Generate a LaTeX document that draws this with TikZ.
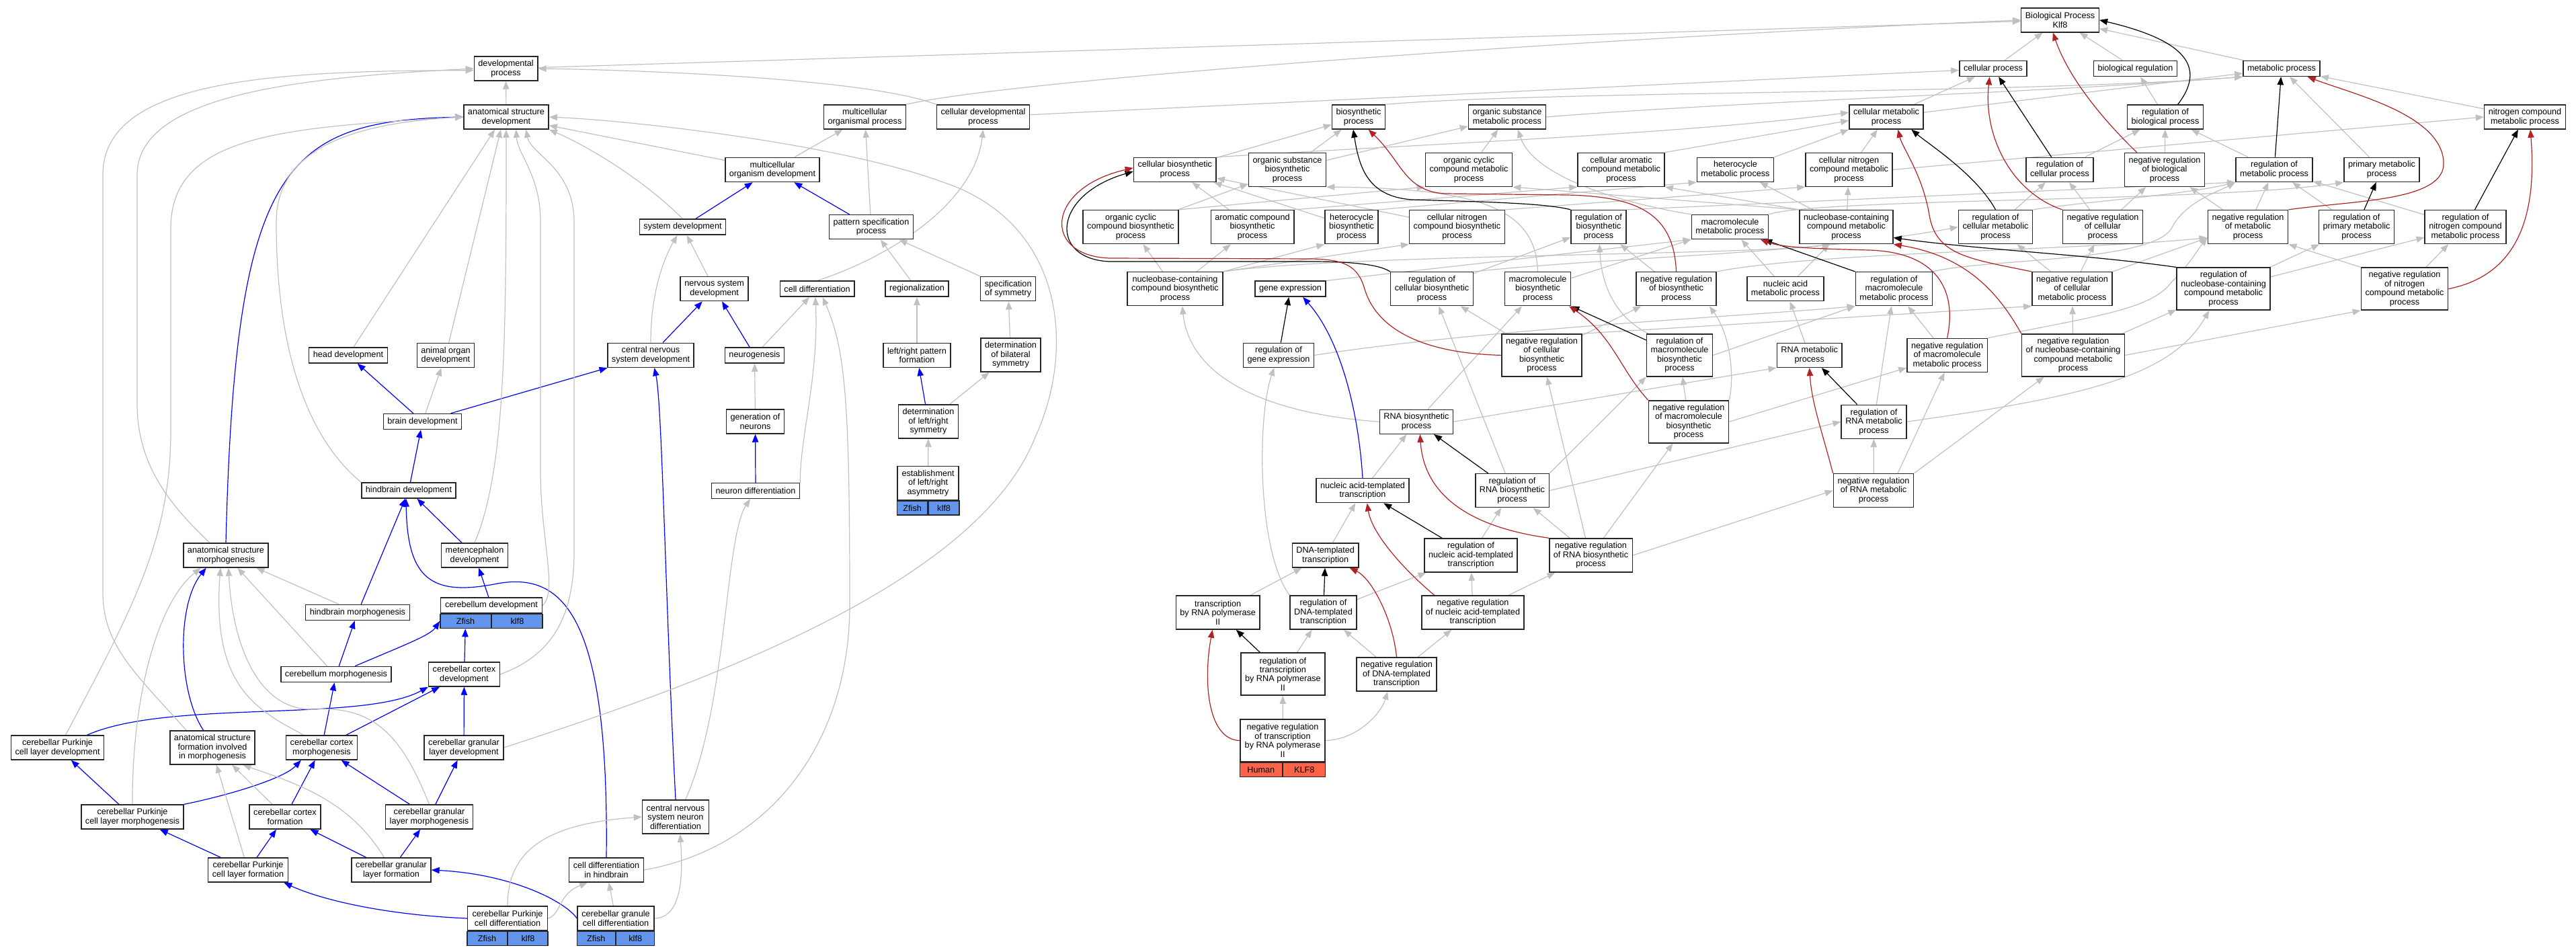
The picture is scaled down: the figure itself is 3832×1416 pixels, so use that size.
\documentclass[tikz,border=0pt]{standalone}
\usepackage{fontspec}
\setmainfont{Liberation Sans}
\usepackage{tikz}
\usetikzlibrary{arrows.meta,backgrounds}
\definecolor{isagray}{RGB}{192,192,192}
\definecolor{negred}{RGB}{178,34,34}
\definecolor{zfblue}{RGB}{100,149,237}
\definecolor{hsred}{RGB}{255,99,71}
\newcommand{\gofont}{\fontsize{9.5}{10.1}\selectfont}

\begin{document}
\begin{tikzpicture}[x=0.75pt,y=-0.75pt,
  term/.style={draw=black!85,line width=1.1pt,fill=white,align=center,font=\gofont,inner xsep=4.6pt,inner ysep=1pt},
  go1/.style={term,minimum height=17.25pt},
  go2/.style={term,minimum height=27pt},
  go3/.style={term,minimum height=37.5pt},
  go4/.style={term,minimum height=47.25pt},
  zf/.style={draw=black!85,line width=1.1pt,fill=zfblue,font=\gofont,minimum height=15.75pt,inner sep=0pt},
  hs/.style={zf,fill=hsred},
  isa/.style={draw=isagray,line width=0.9pt,-{Triangle[length=9pt,width=7pt]}},
  partof/.style={isa,draw=blue},
  regl/.style={isa,draw=black},
  negreg/.style={isa,draw=negred}]
\useasboundingbox (0,0) rectangle (3832,1416);

% developmental terms (left)
\node[go2] (dp) at (752.6,102) {developmental\\process};
\node[go2] (asd) at (753,174) {anatomical structure\\development};
\node[go2] (mop) at (1286.5,174) {multicellular\\organismal process};
\node[go2] (cdp) at (1462.5,174) {cellular developmental\\process};
\node[go2] (mod) at (1149,252.5) {multicellular\\organism development};
\node[go1] (sd) at (1015.5,337.7) {system development};
\node[go2] (psp) at (1296,337.7) {pattern specification\\process};
\node[go2] (nsd) at (1062.7,429.7) {nervous system\\development};
\node[go1] (cd) at (1215.6,429.7) {cell differentiation};
\node[go1] (reg) at (1364,429.7) {regionalization};
\node[go2] (sos) at (1499.7,429.7) {specification\\of symmetry};
\node[go1] (hd) at (518,528.5) {head development};
\node[go2] (aod) at (663,528.5) {animal organ\\development};
\node[go2] (cnsd) at (968,528.4) {central nervous\\system development};
\node[go1] (ng) at (1122.5,528.5) {neurogenesis};
\node[go2] (lrpf) at (1364,528.4) {left/right pattern\\formation};
\node[go3] (dbs) at (1503.5,528) {determination\\of bilateral\\symmetry};
\node[go1] (bd) at (628.5,627) {brain development};
\node[go2] (gon) at (1123.5,627) {generation of\\neurons};
\node[go3] (dlrs) at (1381,627) {determination\\of left/right\\symmetry};
\node[go1] (hbd) at (608,729.5) {hindbrain development};
\node[go1] (nd) at (1124,730) {neuron differentiation};
\node[go3,minimum width=68.25pt] (elra) at (1380.6,718.5) {establishment\\of left/right\\asymmetry};
\node[zf,minimum width=34.1pt,anchor=north east] (elraz) at (elra.south) {Zfish};
\node[zf,minimum width=34.1pt,anchor=north west] (elrak) at (elra.south) {klf8};
\node[go2] (asm) at (336,826) {anatomical structure\\morphogenesis};
\node[go2] (med) at (706,826) {metencephalon\\development};
\node[go1] (hbm) at (532,911) {hindbrain morphogenesis};
\node[go1,minimum width=113.25pt] (cbd) at (731,900.5) {cerebellum development};
\node[zf,minimum width=56.6pt,anchor=north east] (cbdz) at (cbd.south) {Zfish};
\node[zf,minimum width=56.6pt,anchor=north west] (cbdk) at (cbd.south) {klf8};
\node[go1] (cbm) at (500,1003) {cerebellum morphogenesis};
\node[go2] (ccd) at (690.5,1003) {cerebellar cortex\\development};
\node[go2] (cpcld) at (85.6,1112) {cerebellar Purkinje\\cell layer development};
\node[go3] (asfim) at (316,1112) {anatomical structure\\formation involved\\in morphogenesis};
\node[go2] (ccm) at (478.5,1112) {cerebellar cortex\\morphogenesis};
\node[go2] (cgld) at (690,1112) {cerebellar granular\\layer development};
\node[go2] (cpclm) at (197,1215) {cerebellar Purkinje\\cell layer morphogenesis};
\node[go2] (ccf) at (424,1215) {cerebellar cortex\\formation};
\node[go2] (cglm) at (638.5,1215) {cerebellar granular\\layer morphogenesis};
\node[go3] (cnsnd) at (1005,1215) {central nervous\\system neuron\\differentiation};
\node[go2] (cpclf) at (369,1294) {cerebellar Purkinje\\cell layer formation};
\node[go2] (cglf) at (582,1294) {cerebellar granular\\layer formation};
\node[go2] (cdh) at (902,1294) {cell differentiation\\in hindbrain};
\node[go2,minimum width=89.25pt] (cpcd) at (755,1366) {cerebellar Purkinje\\cell differentiation};
\node[zf,minimum width=44.6pt,anchor=north east] (cpcdz) at (cpcd.south) {Zfish};
\node[zf,minimum width=44.6pt,anchor=north west] (cpcdk) at (cpcd.south) {klf8};
\node[go2,minimum width=85.5pt] (cgcd) at (916,1366) {cerebellar granule\\cell differentiation};
\node[zf,minimum width=42.75pt,anchor=north east] (cgcdz) at (cgcd.south) {Zfish};
\node[zf,minimum width=42.75pt,anchor=north west] (cgcdk) at (cgcd.south) {klf8};

% metabolic terms (right)
\node[go2] (bp) at (3064.5,29.8) {Biological Process\\Klf8};
\node[go1] (cp) at (2965,102) {cellular process};
\node[go1] (br) at (3176.5,102) {biological regulation};
\node[go1] (mp) at (3394,102) {metabolic process};
\node[go2] (bsp) at (2021,174) {biosynthetic\\process};
\node[go2] (osmp) at (2242,174) {organic substance\\metabolic process};
\node[go2] (cmp) at (2806,174) {cellular metabolic\\process};
\node[go2] (rbp) at (3221,174) {regulation of\\biological process};
\node[go2] (ncmp) at (3756,174) {nitrogen compound\\metabolic process};
\node[go2] (cbp) at (1747.8,252.4) {cellular biosynthetic\\process};
\node[go3] (osbp) at (1915,252.4) {organic substance\\biosynthetic\\process};
\node[go3] (occmp) at (2185,252.4) {organic cyclic\\compound metabolic\\process};
\node[go3] (cacmp) at (2411.5,252.4) {cellular aromatic\\compound metabolic\\process};
\node[go2] (hmp) at (2581.5,252.4) {heterocycle\\metabolic process};
\node[go3] (cncmp) at (2750.5,252.4) {cellular nitrogen\\compound metabolic\\process};
\node[go2] (rcp) at (3064,252.4) {regulation of\\cellular process};
\node[go3] (nrbp) at (3220,252.4) {negative regulation\\of biological\\process};
\node[go2] (rmp) at (3383,252.4) {regulation of\\metabolic process};
\node[go2] (pmp) at (3543,252.4) {primary metabolic\\process};
\node[go3] (occbp) at (1682,337.6) {organic cyclic\\compound biosynthetic\\process};
\node[go3] (acbp) at (1863,337.6) {aromatic compound\\biosynthetic\\process};
\node[go3] (hbp) at (2010.6,337.6) {heterocycle\\biosynthetic\\process};
\node[go3] (cncbp) at (2167.5,337.6) {cellular nitrogen\\compound biosynthetic\\process};
\node[go3] (rbsp) at (2378,337.6) {regulation of\\biosynthetic\\process};
\node[go2] (mmp) at (2573.5,337.6) {macromolecule\\metabolic process};
\node[go3] (nccmp) at (2746.5,337.6) {nucleobase-containing\\compound metabolic\\process};
\node[go3] (rcmp) at (2968.5,337.6) {regulation of\\cellular metabolic\\process};
\node[go3] (nrcp) at (3128,337.6) {negative regulation\\of cellular\\process};
\node[go3] (nrmp) at (3344,337.6) {negative regulation\\of metabolic\\process};
\node[go3] (rpmp) at (3505.5,337.6) {regulation of\\primary metabolic\\process};
\node[go3] (rncmp) at (3667.5,337.6) {regulation of\\nitrogen compound\\metabolic process};
\node[go3] (nccbp) at (1748,429.7) {nucleobase-containing\\compound biosynthetic\\process};
\node[go1] (ge) at (1919.5,429.7) {gene expression};
\node[go3] (rcbp) at (2130,429.7) {regulation of\\cellular biosynthetic\\process};
\node[go3] (mbp) at (2287.5,429.7) {macromolecule\\biosynthetic\\process};
\node[go3] (nrbsp) at (2493.5,429.7) {negative regulation\\of biosynthetic\\process};
\node[go2] (namp) at (2656,429.7) {nucleic acid\\metabolic process};
\node[go3] (rmmp) at (2817.5,429.7) {regulation of\\macromolecule\\metabolic process};
\node[go3] (nrcmp) at (3082.5,429.7) {negative regulation\\of cellular\\metabolic process};
\node[go4] (rnccmp) at (3307.6,429.7) {regulation of\\nucleobase-containing\\compound metabolic\\process};
\node[go4] (nrncmp) at (3577,429.7) {negative regulation\\of nitrogen\\compound metabolic\\process};
\node[go2] (rge) at (1902,528.4) {regulation of\\gene expression};
\node[go4] (nrcbp) at (2293.5,528.4) {negative regulation\\of cellular\\biosynthetic\\process};
\node[go4] (rmbp) at (2498.5,528.4) {regulation of\\macromolecule\\biosynthetic\\process};
\node[go2] (rnamp) at (2691.7,528.4) {RNA metabolic\\process};
\node[go3] (nrmmp) at (2896.6,528.4) {negative regulation\\of macromolecule\\metabolic process};
\node[go4] (nrnccmp) at (3084,528.4) {negative regulation\\of nucleobase-containing\\compound metabolic\\process};
\node[go2] (rnabp) at (2107,627.3) {RNA biosynthetic\\process};
\node[go4] (nrmbp) at (2512,627.3) {negative regulation\\of macromolecule\\biosynthetic\\process};
\node[go3] (rrnamp) at (2787.5,627.3) {regulation of\\RNA metabolic\\process};
\node[go2] (natt) at (2027,729.7) {nucleic acid-templated\\transcription};
\node[go3] (rrbp) at (2249.5,729.7) {regulation of\\RNA biosynthetic\\process};
\node[go3] (nrrnamp) at (2787,729.7) {negative regulation\\of RNA metabolic\\process};
\node[go2] (dtt) at (1971.7,826) {DNA-templated\\transcription};
\node[go3] (rnatt) at (2188,826) {regulation of\\nucleic acid-templated\\transcription};
\node[go3] (nrrbp) at (2366.5,826) {negative regulation\\of RNA biosynthetic\\process};
\node[go3] (trp) at (1811.7,911) {transcription\\by RNA polymerase\\II};
\node[go3] (rdtt) at (1968.5,911) {regulation of\\DNA-templated\\transcription};
\node[go3] (nrnatt) at (2191,911) {negative regulation\\of nucleic acid-templated\\transcription};
\node[go4] (rtrp) at (1908.4,1002.6) {regulation of\\transcription\\by RNA polymerase\\II};
\node[go3] (nrdtt) at (2077.5,1003) {negative regulation\\of DNA-templated\\transcription};
\node[go4,minimum width=94.5pt] (nrtrp) at (1908,1101.5) {negative regulation\\of transcription\\by RNA polymerase\\II};
\node[hs,minimum width=47.25pt,anchor=north east] (nrtrph) at (nrtrp.south) {Human};
\node[hs,minimum width=47.25pt,anchor=north west] (nrtrpk) at (nrtrp.south) {KLF8};

\begin{scope}[on background layer]
% part_of edges (left)
\draw[partof] (sd) -- (mod);
\draw[partof] (psp) -- (mod);
\draw[partof] (cnsd) -- (nsd);
\draw[partof] (ng) -- (nsd);
\draw[partof] (bd) -- (hd);
\draw[partof] (bd) -- (cnsd);
\draw[partof] (hbd) -- (bd);
\draw[partof] (med) -- (hbd);
\draw[partof] (hbm) -- (hbd);
\draw[partof] (cbd) -- (med);
\draw[partof] (cbm) -- (hbm);
\draw[partof] ([xshift=21pt]cbm.north) .. controls (600,960) and (640,945) .. (cbdz.west);
\draw[partof] (ccd) -- (cbdz);
\draw[partof] (ccm) -- (cbm);
\draw[partof] (ccm) -- (ccd);
\draw[partof] ([xshift=33pt]cpcld.north) .. controls (250,1040) and (540,1075) .. (ccd.south west);
\draw[partof] (cgld) -- (ccd);
\draw[partof] (cpclm) -- (cpcld);
\draw[partof] (cpclm.north east) .. controls (330,1185) and (420,1160) .. ([xshift=-23pt]ccm.south);
\draw[partof] (ccf) -- (ccm);
\draw[partof] (cglm) -- (ccm);
\draw[partof] (cglm) -- (cgld);
\draw[partof] (cpclf) -- (cpclm);
\draw[partof] (cpclf) -- (ccf);
\draw[partof] (cglf) -- (ccf);
\draw[partof] (cglf) -- (cglm);
\draw[partof] (cpcd.west) .. controls (560,1360) and (470,1335) .. ([xshift=40pt]cpclf.south);
\draw[partof] (cgcd.west) .. controls (840,1340) and (760,1300) .. (cglf.east);
\draw[partof] ([xshift=-10pt]asfim.north) .. controls (265,1030) and (262,900) .. ([xshift=-22pt]asm.south);
\draw[partof] (asm.north) .. controls (350,250) and (420,180) .. (asd.west);
\draw[partof] (cdh.north) .. controls (906,920) and (840,850) .. (740,868) .. controls (640,888) and (606,860) .. ([xshift=-3pt]hbd.south);
\draw[partof] (cnsnd.north) .. controls (990,900) and (985,600) .. ([xshift=4pt]cnsd.south);
\draw[partof] (nd) -- (gon);
\draw[partof] (dlrs) -- (lrpf);
% is_a edges (left)
\draw[isa] (asd) -- (dp);
\draw[isa] (dp) -- (bp);
\draw[isa] (mop.north east) .. controls (1500,120) and (2300,60) .. (bp.west);
\draw[isa] (cdp.north west) .. controls (1300,120) and (1000,105) .. (dp.east);
\draw[isa] (cdp) -- (cp);
\draw[isa] (mod) -- (asd);
\draw[isa] (mod) -- (mop);
\draw[isa] (psp) -- (mop);
\draw[isa] (cd.north) .. controls (1330,380) and (1450,300) .. (cdp.south);
\draw[isa] (sd.north) .. controls (960,270) and (880,220) .. (asd.south east);
\draw[isa] (cnsd.north) .. controls (968,430) and (990,380) .. ([xshift=-6pt]sd.south);
\draw[isa] (nsd) -- (sd);
\draw[isa] (reg) -- (psp);
\draw[isa] (sos) -- (psp);
\draw[isa] (ng) -- (cd);
\draw[isa] (nd.north east) .. controls (1190,650) and (1218,560) .. ([xshift=-2pt]cd.south);
\draw[isa] (cdh.east) .. controls (1150,1260) and (1264,1100) .. (1264,900) .. controls (1264,600) and (1258,520) .. ([xshift=6pt]cd.south);
\draw[isa] (gon) -- (ng);
\draw[isa] (lrpf) -- (reg);
\draw[isa] (dbs) -- (sos);
\draw[isa] (dlrs) -- (dbs);
\draw[isa] (elra) -- (dlrs);
\draw[isa] (hd) -- ([xshift=-12.75pt]asd.south);
\draw[isa] (aod) -- ([xshift=-6pt]asd.south);
\draw[isa] (bd) -- (aod);
\draw[isa] (med.north) .. controls (752,700) and (753,500) .. (asd.south);
\draw[isa] (cbd.east) .. controls (830,880) and (804,800) .. (804,700) -- (804,330) .. controls (804,260) and (770,230) .. ([xshift=11pt]asd.south);
\draw[isa] (ccd.east) .. controls (820,975) and (854,920) .. (854,820) -- (854,330) .. controls (854,250) and (790,230) .. ([xshift=22pt]asd.south);
\draw[isa] (cgld.east) .. controls (1000,1030) and (1450,880) .. (1540,650) .. controls (1600,520) and (1585,330) .. (1400,270) .. controls (1250,215) and (950,180) .. (asd.east);
\draw[isa] (hbd.north west) .. controls (420,620) and (411,420) .. (411,330) .. controls (411,210) and (550,182) .. (asd.west);
\draw[isa] ([xshift=9pt]cpcld.north) .. controls (200,900) and (254,800) .. (254,640) -- (254,340) .. controls (254,200) and (420,190) .. (asd.west);
\draw[isa] ([xshift=-18pt]asm.north) .. controls (240,740) and (204,680) .. (204,600) -- (204,260) .. controls (204,140) and (450,115) .. (dp.west);
\draw[isa] ([xshift=-29pt]asfim.north) .. controls (200,1000) and (153,960) .. (153,880) -- (153,260) .. controls (153,120) and (400,105) .. ([yshift=-2pt]dp.west);
\draw[isa] (cpclm.north) .. controls (196,1050) and (230,900) .. ([xshift=-28pt]asm.south);
\draw[isa] ([xshift=-20pt]ccm.north) .. controls (380,1055) and (315,1020) .. ([xshift=-6pt]asm.south);
\draw[isa] (cglm.north) .. controls (600,1100) and (560,1050) .. (470,1055) .. controls (380,1060) and (345,950) .. ([xshift=3pt]asm.south);
\draw[isa] ([xshift=-10pt]cbm.north) -- ([xshift=13pt]asm.south);
\draw[isa] (hbm) -- ([xshift=34pt]asm.south);
\draw[isa] (cpclf) -- ([xshift=4.5pt]asfim.south);
\draw[isa] (ccf) -- ([xshift=22pt]asfim.south);
\draw[isa] ([xshift=-8pt]cglf.north) .. controls (520,1190) and (440,1165) .. ([xshift=34pt]asfim.south);
\draw[isa] (cpcd.east) .. controls (835,1360) and (830,1330) .. ([xshift=-21pt]cdh.south);
\draw[isa] (cpcd.north) .. controls (755,1260) and (820,1225) .. (cnsnd.west);
\draw[isa] (cgcd) -- (cdh);
\draw[isa] (cgcd.east) .. controls (1015,1365) and (1016,1300) .. ([xshift=5pt]cnsnd.south);
\draw[isa] ([xshift=11pt]cnsnd.north) .. controls (1082,1050) and (1078,800) .. ([xshift=-6pt]nd.south);

% is_a edges (right)
\draw[isa] (cp) -- (bp);
\draw[isa] (br) -- (bp);
\draw[isa] (mp) -- (bp);
\draw[isa] (cmp) -- (cp);
\draw[isa] (cmp) -- (mp);
\draw[isa] (bsp.north east) .. controls (2300,135) and (3000,140) .. (mp.south west);
\draw[isa] (osmp.east) .. controls (2600,150) and (3000,140) .. (mp.south west);
\draw[isa] (cbp) -- (bsp);
\draw[isa] (cbp.north east) .. controls (2100,215) and (2500,200) .. ([yshift=5pt]cmp.west);
\draw[isa] (osbp) -- (bsp);
\draw[isa] (osbp) -- (osmp);
\draw[isa] (occmp) -- (osmp);
\draw[isa] (mmp.north west) .. controls (2400,300) and (2280,260) .. ([xshift=12pt]osmp.south);
\draw[isa] (cacmp.north east) -- ([yshift=-4pt]cmp.west);
\draw[isa] (hmp.north east) -- (cmp.south west);
\draw[isa] (cncmp) -- (cmp);
\draw[isa] (cncmp.east) -- (ncmp.west);
\draw[isa] (ncmp) -- (mp);
\draw[isa] (pmp) -- (mp);
\draw[isa] (rbp) -- (br);
\draw[isa] (rcp) -- (rbp);
\draw[isa] (nrbp) -- (rbp);
\draw[isa] (rmp) -- (rbp);
\draw[isa] (occbp) -- (osbp);
\draw[isa] (occbp.north east) -- (occmp.south west);
\draw[isa] (acbp) -- (cbp);
\draw[isa] (acbp.north east) -- (cacmp.south west);
\draw[isa] (hbp) -- (cbp);
\draw[isa] (hbp.north east) -- (hmp.south west);
\draw[isa] (cncbp) -- (cbp);
\draw[isa] (cncbp.north east) -- (cncmp.south west);
\draw[isa] (rbsp.north east) -- (rmp.south west);
\draw[isa] (mmp.north east) .. controls (2700,295) and (3300,300) .. (pmp.south west);
\draw[isa] (nccmp.north west) -- (occmp.south east);
\draw[isa] (nccmp.north west) -- (cacmp.south east);
\draw[isa] (nccmp) -- (hmp);
\draw[isa] (nccmp) -- (cncmp);
\draw[isa] (rcmp) -- (rcp);
\draw[isa] (rcmp.north east) .. controls (3100,300) and (3250,290) .. (rmp.south west);
\draw[isa] (nrcp) -- (rcp);
\draw[isa] (nrcp) -- (nrbp);
\draw[isa] (nrmp) -- (rmp);
\draw[isa] (nrmp) -- (nrbp);
\draw[isa] (rpmp) -- (rmp);
\draw[isa] (rncmp) -- (rmp);
\draw[isa] (nccbp) -- (occbp);
\draw[isa] (nccbp) -- (acbp);
\draw[isa] (nccbp.north east) -- (hbp.south west);
\draw[isa] (nccbp.north east) -- (cncbp.south west);
\draw[isa] (nccbp.north east) .. controls (2000,378) and (2600,380) .. ([xshift=-18pt]nccmp.south);
\draw[isa] (ge.north east) -- (mmp.south west);
\draw[isa] (rge.east) .. controls (2200,490) and (2600,470) .. (rmmp.south west);
\draw[isa] (rcbp) -- (rbsp);
\draw[isa] (rcbp.north east) .. controls (2400,382) and (2700,378) .. (rcmp.west);
\draw[isa] (mbp.north) .. controls (2285,310) and (2200,280) .. (osbp.south east);
\draw[isa] (mbp) -- (mmp);
\draw[isa] (nrbsp) -- (rbsp);
\draw[isa] (nrbsp.north east) .. controls (2700,375) and (3100,372) .. ([yshift=-12pt]nrmp.west);
\draw[isa] (namp) -- (mmp);
\draw[isa] (namp) -- (nccmp);
\draw[isa] (rmmp.north east) .. controls (2950,385) and (3200,390) .. (3230,340) .. controls (3250,300) and (3300,285) .. (rmp.south west);
\draw[isa] (nrcmp) -- (rcmp);
\draw[isa] (nrcmp) -- (nrcp);
\draw[isa] (nrcmp.north east) -- ([yshift=-12pt]nrmp.west);
\draw[isa] (rnccmp) -- (rncmp);
\draw[isa] (rnccmp) -- (rpmp);
\draw[isa] (nrncmp) -- (rncmp);
\draw[isa] (nrncmp.north west) -- (nrmp.south east);
\draw[isa] ([xshift=-35pt]rmbp.north) .. controls (2400,470) and (2382,420) .. ([xshift=1pt]rbsp.south);
\draw[isa] (rmbp.east) -- (rmmp.south west);
\draw[isa] (nrcbp) -- (rcbp);
\draw[isa] (nrcbp) -- (nrbsp);
\draw[isa] (nrcbp.north east) -- (nrcmp.south west);
\draw[isa] (rrbp) -- (rcbp);
\draw[isa] (rrbp.north east) -- (rmbp.south west);
\draw[isa] (rrbp.east) -- (rrnamp.west);
\draw[isa] (rnabp) -- (mbp);
\draw[isa] (rnabp.west) .. controls (1880,615) and (1770,560) .. ([xshift=8pt]nccbp.south);
\draw[isa] (rnabp.east) -- (rnamp.south west);
\draw[isa] (natt) -- (rnabp);
\draw[isa] (dtt) -- (natt);
\draw[isa] (rnatt) -- (rrbp);
\draw[isa] (nrnatt) -- (rnatt);
\draw[isa] (nrnatt) -- (nrrbp);
\draw[isa] (rdtt) -- (rnatt);
\draw[isa] (rdtt.north west) .. controls (1870,820) and (1870,620) .. ([xshift=-5pt]rge.south);
\draw[isa] (trp) -- (dtt);
\draw[isa] (rtrp) -- (rdtt);
\draw[isa] (nrdtt) -- (rdtt);
\draw[isa] (nrdtt) -- (nrnatt);
\draw[isa] (nrtrp) -- (rtrp);
\draw[isa] (nrtrp.east) .. controls (2020,1100) and (2055,1060) .. ([xshift=-10pt]nrdtt.south);
\draw[isa] (nrrbp) -- (rrbp);
\draw[isa] (nrrbp) -- (nrmbp);
\draw[isa] ([xshift=-6pt]nrrbp.north) -- (nrcbp);
\draw[isa] (nrrbp.east) -- (nrrnamp.west);
\draw[isa] (nrmbp) -- (rmbp);
\draw[isa] (nrmbp.east) -- ([yshift=-14pt]nrmmp.west);
\draw[isa] (nrmbp.north east) .. controls (2580,560) and (2575,500) .. ([xshift=37pt]nrbsp.south);
\draw[isa] (nrmmp) -- (rmmp);
\draw[isa] (nrmmp.north east) .. controls (3120,470) and (3200,460) .. (3230,420) .. controls (3260,390) and (3270,370) .. ([yshift=-12pt]nrmp.west);
\draw[isa] (rrnamp) -- (rmmp);
\draw[isa] (rrnamp.east) .. controls (3100,590) and (3230,560) .. ([xshift=-16pt]rnccmp.south);
\draw[isa] (nrrnamp) -- (rrnamp);
\draw[isa] ([xshift=27pt]nrrnamp.north) -- ([xshift=-3pt]nrmmp.south);
\draw[isa] (nrrnamp.north east) -- (nrnccmp);
\draw[isa] (nrnccmp) -- (rnccmp);
\draw[isa] (nrnccmp) -- (nrcmp);
\draw[isa] (nrnccmp.east) -- (nrncmp.south west);
\draw[isa] (rnamp) -- (namp);

% regulates edges
\draw[regl] ([xshift=14pt]rbp.north) .. controls (3290,90) and (3230,55) .. (bp.east);
\draw[regl] (rcp) -- (cp);
\draw[regl] (rmp) -- (mp);
\draw[regl] (rcmp.north) .. controls (2940,260) and (2870,215) .. ([xshift=28pt]cmp.south);
\draw[regl] (rncmp) -- (ncmp);
\draw[regl] (rpmp) -- (pmp);
\draw[regl] (rbsp.north west) .. controls (2300,302) and (2200,300) .. (2100,297) .. controls (2035,292) and (2022,250) .. ([xshift=-6pt]bsp.south);
\draw[regl] (rcbp.north west) .. controls (2050,392) and (2000,389) .. (1950,389) -- (1650,389) .. controls (1560,385) and (1565,290) .. ([yshift=-2pt]cbp.west);
\draw[regl] (rmbp) -- (mbp.south east);
\draw[regl] (rmmp.north west) -- ([xshift=38pt]mmp.south);
\draw[regl] (rnccmp.north west) .. controls (3100,378) and (2950,372) .. ([yshift=-12pt]nccmp.east);
\draw[regl] (rge) -- (ge);
\draw[regl] (rrnamp) -- (rnamp);
\draw[regl] (rrbp) -- (rnabp);
\draw[regl] (rnatt) -- (natt);
\draw[regl] (rdtt) -- (dtt);
\draw[regl] (rtrp) -- (trp);

% negatively regulates edges
\draw[negreg] ([xshift=-31pt]nrbp.north) .. controls (3120,170) and (3075,110) .. ([xshift=-8pt]bp.south);
\draw[negreg] (nrcp.north west) .. controls (2990,285) and (2950,200) .. ([xshift=-4pt]cp.south);
\draw[negreg] (nrmp.north east) .. controls (3500,298) and (3640,300) .. (3635,240) .. controls (3630,170) and (3500,140) .. ([xshift=29pt]mp.south);
\draw[negreg] (nrcmp.north west) .. controls (2930,385) and (2880,380) .. (2870,320) .. controls (2860,260) and (2830,220) .. ([xshift=13pt]cmp.south);
\draw[negreg] (nrncmp.east) .. controls (3740,410) and (3775,330) .. ([xshift=6pt]ncmp.south);
\draw[negreg] (nrbsp.north) .. controls (2490,320) and (2440,292) .. (2330,290) -- (2150,288) .. controls (2090,285) and (2085,240) .. ([xshift=11pt]bsp.south);
\draw[negreg] (nrcbp.west) .. controls (2100,525) and (2045,480) .. (2030,430) .. controls (2020,395) and (2000,386) .. (1950,385) -- (1650,384) .. controls (1550,380) and (1555,280) .. ([yshift=2pt]cbp.west);
\draw[negreg] (nrmbp.north west) .. controls (2410,550) and (2400,500) .. ([xshift=35pt]mbp.south);
\draw[negreg] (nrmmp.north) .. controls (2912,430) and (2880,375) .. (2780,372) .. controls (2700,370) and (2650,368) .. ([xshift=34pt]mmp.south);
\draw[negreg] (nrnccmp.north west) .. controls (2970,430) and (2920,380) .. (nccmp.south east);
\draw[negreg] (nrrnamp.north west) .. controls (2710,640) and (2695,600) .. (rnamp.south);
\draw[negreg] (nrrbp.north west) .. controls (2230,790) and (2120,760) .. ([xshift=4pt]rnabp.south);
\draw[negreg] ([xshift=-43pt]nrnatt.north) .. controls (2080,840) and (2040,790) .. ([xshift=5pt]natt.south);
\draw[negreg] (nrdtt.north) .. controls (2072,920) and (2040,860) .. ([xshift=27pt]dtt.south);
\draw[negreg] (nrtrp.west) .. controls (1795,1100) and (1790,1010) .. ([xshift=-6pt]trp.south);

% part_of edge (right)
\draw[partof] (natt.north) .. controls (2020,600) and (1990,500) .. ([xshift=14pt]ge.south);
\end{scope}
\end{tikzpicture}
\end{document}
